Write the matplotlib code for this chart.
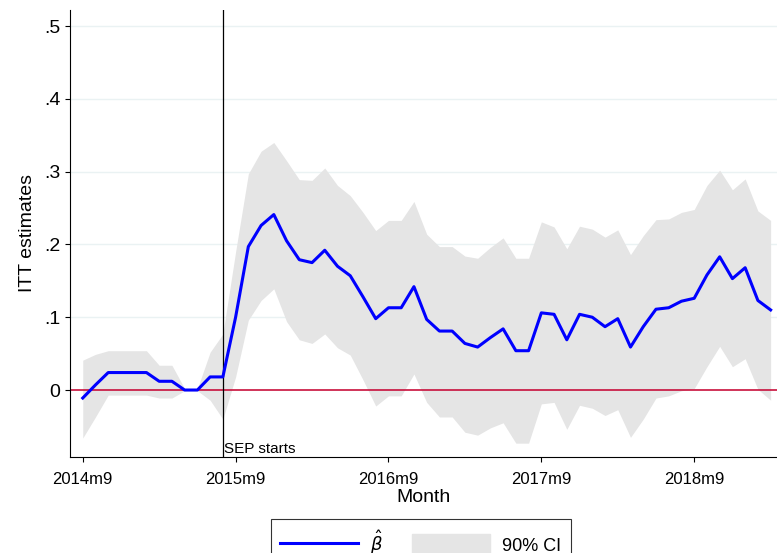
import matplotlib
matplotlib.use("Agg")
import matplotlib.pyplot as plt
import numpy as np

beta = [-0.011,0.007,0.024,0.024,0.024,0.024,0.012,0.012,0.0,0.0,0.018,0.018,0.100,0.197,0.226,0.241,0.205,0.179,0.175,0.192,0.170,0.157,0.128,0.098,0.113,0.113,0.142,
        0.097,0.081,0.081,0.064,0.059,0.072,0.084,0.054,0.054,0.106,0.104,0.069,0.104,0.100,0.087,0.098,0.059,0.087,0.111,0.113,0.122,0.126,0.158,0.183,0.153,0.168,0.123,0.110]
upper = [0.041,0.049,0.054,0.054,0.054,0.054,0.034,0.034,0.002,0.002,0.052,0.077,0.190,0.297,0.328,0.340,0.315,0.289,0.288,0.305,0.281,0.267,0.244,0.219,0.233,0.233,0.259,
         0.214,0.197,0.197,0.184,0.181,0.196,0.209,0.181,0.181,0.231,0.224,0.194,0.225,0.221,0.210,0.220,0.186,0.212,0.234,0.235,0.244,0.248,0.281,0.302,0.275,0.290,0.246,0.233]
lower = [-0.066,-0.037,-0.007,-0.007,-0.007,-0.007,-0.011,-0.011,-0.001,-0.001,-0.014,-0.040,0.018,0.096,0.123,0.139,0.094,0.069,0.064,0.077,0.058,0.048,0.014,-0.022,-0.008,-0.008,0.022,
         -0.017,-0.037,-0.037,-0.058,-0.062,-0.052,-0.045,-0.073,-0.073,-0.019,-0.017,-0.054,-0.021,-0.025,-0.035,-0.027,-0.065,-0.040,-0.011,-0.008,-0.001,0.002,0.032,0.060,0.032,0.043,0.001,-0.014]
tick_pos = [0, 12, 24, 36, 48]
tick_labels = ["2014m9", "2015m9", "2016m9", "2017m9", "2018m9"]
y_ticks = [0, 0.1, 0.2, 0.3, 0.4, 0.5]
y_labels = ["0", ".1", ".2", ".3", ".4", ".5"]
sep_idx = 11

plt.rcParams['font.family'] = ['Liberation Sans', 'DejaVu Sans']
x = np.arange(len(beta))
fig = plt.figure(figsize=(7.77, 5.53), dpi=100)
ax = fig.add_axes([70/777, 1-457/553, 707/777, 447/553])
for t in y_ticks[1:]:
    ax.axhline(t, color="#eaf2f3", lw=1, zorder=0)
ax.fill_between(x, lower, upper, color="#e5e5e5", lw=0, zorder=1)
ax.axhline(0, color="#c8103c", lw=1.2, zorder=2)
ax.axvline(sep_idx, color="black", lw=0.9, zorder=3)
ax.plot(x, beta, color="#0000ff", lw=2.2, zorder=4)
ax.text(sep_idx + 0.1, -0.0905, "SEP starts", fontsize=11, va="bottom", ha="left")
ax.set_xlim(-1.0, 54.5)
ax.set_ylim(-0.092, 0.522)
ax.set_xticks(tick_pos, tick_labels, fontsize=12)
ax.set_yticks(y_ticks, y_labels, fontsize=14)
ax.tick_params(axis="x", pad=7)
ax.spines["top"].set_visible(False)
ax.spines["right"].set_visible(False)
ax.set_xlabel("Month", fontsize=14, labelpad=2)
ax.set_ylabel("ITT estimates", fontsize=14, labelpad=6)

from matplotlib.lines import Line2D
from matplotlib.patches import Patch
handles = [Line2D([0], [0], color="#0000ff", lw=2.2), Patch(color="#e5e5e5")]
leg = fig.legend(handles, [r"$\hat{\beta}$", "90% CI"], loc="upper left", bbox_to_anchor=(271/777, 1-519/553), ncol=2,
                 fancybox=False, edgecolor="black", fontsize=13, handlelength=4.3, handleheight=1.4,
                 columnspacing=1.6, handletextpad=0.7, borderpad=0.5, borderaxespad=0)
leg.get_frame().set_linewidth(0.8)
fig.savefig("out.png", dpi=100)
